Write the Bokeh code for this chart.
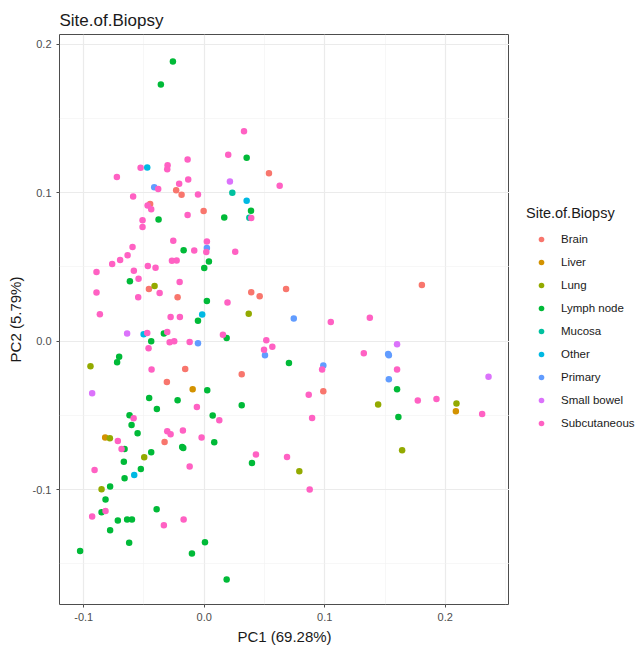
from bokeh.plotting import figure
from bokeh.layouts import row
from bokeh.models import Range1d, FixedTicker, PrintfTickFormatter, Legend, LegendItem
from bokeh.embed import file_html
from bokeh.resources import INLINE

categories = ["Brain", "Liver", "Lung", "Lymph node", "Mucosa", "Other", "Primary", "Small bowel", "Subcutaneous"]
colors = ["#F8766D", "#D39200", "#93AA00", "#00BA38", "#00C19F", "#00B9E3", "#619CFF", "#DB72FB", "#FF61C3"]

brain_x = [-0.0233, -0.0188, -0.0449, -0.0005, -0.0459, -0.0221, -0.0158, -0.0310, -0.0329, 0.0537, 0.0390, 0.0460, 0.0679, 0.0311, 0.0988, 0.1806]
brain_y = [0.1016, 0.0985, 0.0922, 0.0875, 0.0350, 0.0294, -0.0188, -0.0276, -0.0680, 0.1129, 0.0328, 0.0301, 0.0350, -0.0224, -0.0338, 0.0377]

liver_x = [-0.0096, -0.0822, 0.2088]
liver_y = [-0.0325, -0.0650, -0.0473]

lung_x = [-0.0412, -0.0944, -0.0783, -0.0498, -0.0852, 0.0369, 0.0789, 0.1443, 0.2093, 0.1642]
lung_y = [0.0370, -0.0170, -0.0655, -0.0783, -0.0998, 0.0184, -0.0877, -0.0428, -0.0421, -0.0736]

lymph_x = [-0.0260, -0.0360, -0.0379, 0.0166, 0.0352, 0.0388, -0.0171, 0.0039, 0.0000, -0.0617,
           0.0022, -0.0052, -0.0335, -0.0440, -0.0706, -0.0723, 0.0186, 0.0703, 0.0025, -0.0457,
           -0.0221, -0.0393, -0.0620, -0.0603, -0.0553, 0.0070, 0.0083, -0.0183, -0.0174, -0.0661,
           -0.0440, -0.0667, -0.0526, -0.0661, -0.0781, -0.0819, -0.0852, -0.0395, -0.0717, -0.0640,
           -0.0600, -0.0781, -0.0623, -0.1030, -0.0102, 0.0006, 0.0186, 0.0396, 0.0311, 0.1600, 0.1611]
lymph_y = [0.1883, 0.1727, 0.0819, 0.0832, 0.1234, 0.0878, 0.0612, 0.0536, 0.0491, 0.0402,
           0.0269, 0.0137, 0.0050, -0.0002, -0.0105, -0.0143, 0.0020, -0.0148, -0.0332, -0.0384,
           -0.0399, -0.0458, -0.0500, -0.0565, -0.0621, -0.0502, -0.0682, -0.0713, -0.0720, -0.0727,
           -0.0749, -0.0812, -0.0861, -0.0924, -0.0980, -0.1067, -0.1153, -0.1133, -0.1209, -0.1202,
           -0.1202, -0.1274, -0.1359, -0.1413, -0.1431, -0.1355, -0.1606, -0.0821, -0.0433, -0.0325, -0.0511]

mucosa_x = [0.0233, 0.0374]
mucosa_y = [0.0999, 0.0830]

other_x = [-0.0473, 0.0352, -0.0017, -0.0503, -0.0581]
other_y = [0.1169, 0.0945, 0.0178, 0.0045, -0.0902]

primary_x = [-0.0415, 0.0022, -0.0052, 0.0743, 0.0504, 0.0988, 0.1526, 0.1532, 0.1532]
primary_y = [0.1036, 0.0626, -0.0015, 0.0151, -0.0096, -0.0164, -0.0087, -0.0096, -0.0258]

smallbowel_x = [0.0213, -0.0640, -0.0930, 0.1600, 0.2359]
smallbowel_y = [0.1075, 0.0050, -0.0352, -0.0022, -0.0240]

subcut_x = [-0.0725, -0.0528, -0.0304, -0.0307, -0.0138, -0.0208, -0.0133, -0.0382, -0.0052, -0.0590,
            -0.0470, -0.0440, -0.0138, -0.0512, -0.0512, -0.0257, 0.0022, 0.0017, -0.0083, -0.0595,
            -0.0636, -0.0698, -0.0764, -0.0894, -0.0268, -0.0229, -0.0468, -0.0404, -0.0584, -0.0545,
            -0.0204, -0.0370, -0.0894, -0.0548, -0.0866, -0.0279, -0.0202, -0.0473, -0.0307, -0.0287,
            -0.0249, -0.0121, -0.0462, -0.0437, -0.0061, -0.0586, -0.0307, -0.0279, -0.0177, 0.0125,
            -0.0022, -0.0717, -0.0686, -0.0910, -0.0121, -0.0819, -0.0930, -0.0171, -0.0335, 0.0330,
            0.0199, 0.0626, 0.0390, 0.0257, 0.0193, 0.0155, 0.0515, 0.0496, 0.0565, 0.1050,
            0.0978, 0.0867, 0.0895, 0.0429, 0.0687, 0.0875, 0.1374, 0.1324, 0.1600, 0.1772,
            0.1927, 0.2306]
subcut_y = [0.1104, 0.1167, 0.1184, 0.1157, 0.1223, 0.1059, 0.1088, 0.1023, 0.0987, 0.0974,
            0.0913, 0.0888, 0.0848, 0.0814, 0.0767, 0.0676, 0.0671, 0.0599, 0.0610, 0.0633,
            0.0577, 0.0545, 0.0518, 0.0464, 0.0541, 0.0543, 0.0505, 0.0494, 0.0474, 0.0420,
            0.0397, 0.0323, 0.0326, 0.0294, 0.0180, 0.0162, 0.0162, 0.0054, 0.0061, -0.0009,
            -0.0002, -0.0007, -0.0049, -0.0192, -0.0444, -0.0520, -0.0608, -0.0628, -0.0603, -0.0534,
            -0.0650, -0.0673, -0.0727, -0.0868, -0.0845, -0.1144, -0.1182, -0.1202, -0.1240, 0.1413,
            0.1254, 0.1046, 0.0828, 0.0602, 0.0260, 0.0043, 0.0005, -0.0058, -0.0038, 0.0128,
            -0.0192, -0.0361, -0.0518, -0.0764, -0.0781, -0.1000, 0.0157, -0.0083, -0.0192, -0.0401,
            -0.0390, -0.0491]

series = [(brain_x, brain_y), (liver_x, liver_y), (lung_x, lung_y), (lymph_x, lymph_y),
          (mucosa_x, mucosa_y), (other_x, other_y), (primary_x, primary_y),
          (smallbowel_x, smallbowel_y), (subcut_x, subcut_y)]

x_ticks = [-0.1, 0.0, 0.1, 0.2]
x_minor = [-0.15, -0.05, 0.05, 0.15, 0.25]
y_ticks = [-0.1, 0.0, 0.1, 0.2]
y_minor = [-0.15, -0.05, 0.05, 0.15]

FONT = "Liberation Sans"

main = figure(width=509, height=648, output_backend="svg", toolbar_location=None,
              x_range=Range1d(-0.1201, 0.2533), y_range=Range1d(-0.1774, 0.2064),
              min_border_left=59, min_border_right=0, min_border_top=34, min_border_bottom=44)

main.title.text = "Site.of.Biopsy"
main.title.text_font = FONT
main.title.text_font_size = "17px"
main.title.text_font_style = "normal"
main.title.text_color = "#1a1a1a"
main.title.offset = 0

main.background_fill_color = "white"
main.border_fill_color = "white"
main.outline_line_color = "#4d4d4d"
main.outline_line_width = 1

for ax, ticks, minor in ((main.xaxis[0], x_ticks, x_minor), (main.yaxis[0], y_ticks, y_minor)):
    ax.ticker = FixedTicker(ticks=ticks, minor_ticks=minor)
    ax.formatter = PrintfTickFormatter(format="%.1f")
    ax.axis_line_color = None
    ax.major_tick_line_color = "#4d4d4d"
    ax.major_tick_in = 0
    ax.major_tick_out = 3
    ax.minor_tick_line_color = None
    ax.major_label_text_font = FONT
    ax.major_label_text_font_size = "11px"
    ax.major_label_text_color = "#4d4d4d"
    ax.axis_label_text_font = FONT
    ax.axis_label_text_font_size = "15px"
    ax.axis_label_text_font_style = "normal"
    ax.axis_label_text_color = "#1a1a1a"

main.xaxis.axis_label = "PC1 (69.28%)"
main.yaxis.axis_label = "PC2 (5.79%)"
main.xaxis.major_label_standoff = 4
main.yaxis.major_label_standoff = 4
main.xaxis.axis_label_standoff = 4
main.yaxis.axis_label_standoff = 6

for g in (main.xgrid[0], main.ygrid[0]):
    g.grid_line_color = "#ebebeb"
    g.grid_line_width = 1.2
    g.minor_grid_line_color = "#f2f2f2"
    g.minor_grid_line_width = 0.6

for name, col, (xs, ys) in zip(categories, colors, series):
    main.scatter(xs, ys, size=6.5, fill_color=col, line_color=None, fill_alpha=1)

# legend panel (its data lie outside this panel's ranges, so only the legend shows)
leg_fig = figure(width=135, height=648, output_backend="svg", toolbar_location=None,
                 min_border=0, x_axis_type=None, y_axis_type=None,
                 x_range=Range1d(10, 11), y_range=Range1d(10, 11))
leg_fig.outline_line_color = None
leg_fig.grid.visible = False
leg_fig.background_fill_color = "white"
leg_fig.border_fill_color = "white"

items = []
for name, col, (xs, ys) in zip(categories, colors, series):
    r = leg_fig.scatter(xs, ys, size=6.5, fill_color=col, line_color=None)
    items.append(LegendItem(label=name, renderers=[r]))

legend = Legend(items=items, title="Site.of.Biopsy", location=(17, 174))
legend.title_text_font = FONT
legend.title_text_font_size = "14.5px"
legend.title_text_font_style = "normal"
legend.title_text_color = "#1a1a1a"
legend.title_standoff = 11
legend.label_text_font = FONT
legend.label_text_font_size = "11.5px"
legend.label_text_color = "#1a1a1a"
legend.glyph_width = 30
legend.glyph_height = 14
legend.spacing = 9
legend.label_standoff = 5
legend.label_height = 14
legend.border_line_color = None
legend.background_fill_alpha = 0
legend.margin = 0
legend.padding = 10
leg_fig.add_layout(legend, "center")

p = row(main, leg_fig, spacing=0)

open("out.html", "w").write(file_html(p, INLINE))
